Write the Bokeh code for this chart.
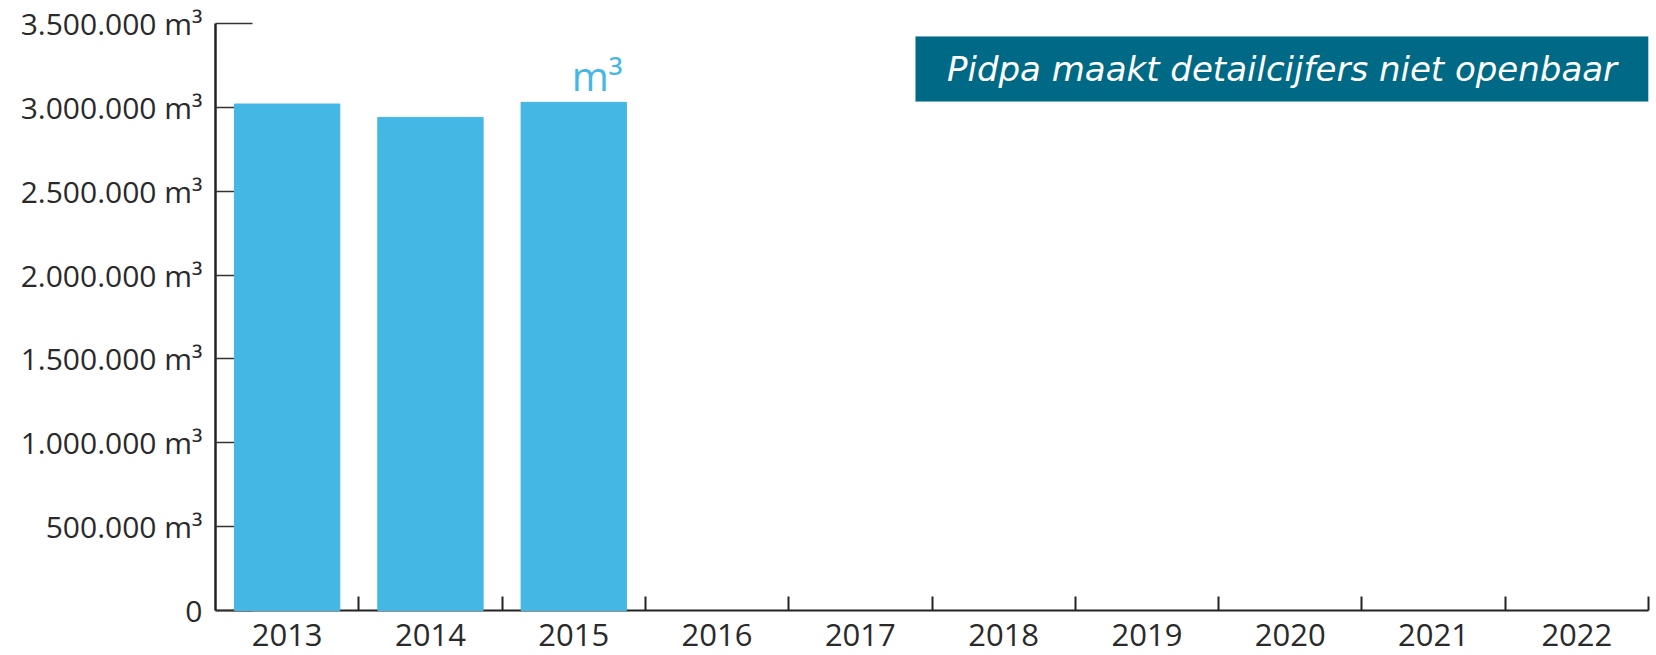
from bokeh.plotting import figure
from bokeh.models import Range1d, FixedTicker, BoxAnnotation, Label, ColumnDataSource
from bokeh.embed import file_html
from bokeh.resources import INLINE
from bokeh.core.properties import value

# ---- data ----
years = ["2013", "2014", "2015", "2016", "2017", "2018", "2019", "2020", "2021", "2022"]
volumes = [3020000, 2940000, 3030000, None, None, None, None, None, None, None]
y_ticks = [0, 500000, 1000000, 1500000, 2000000, 2500000, 3000000, 3500000]
y_tick_labels = ["0", "500.000 m³", "1.000.000 m³", "1.500.000 m³", "2.000.000 m³",
                 "2.500.000 m³", "3.000.000 m³", "3.500.000 m³"]
unit_label = "m³"
note_text = "Pidpa maakt detailcijfers niet openbaar"

FONT = "Open Sans"
TEXT_COLOR = "#2a2a2a"
BAR_COLOR = "#45b7e4"
BOX_COLOR = "#006a86"

n = len(years)
centers = [i + 0.5 for i in range(n)]
xs = [c for c, v in zip(centers, volumes) if v is not None]
tops = [v for v in volumes if v is not None]
src = ColumnDataSource(dict(x=xs, top=tops))

p = figure(width=1656, height=655, output_backend="svg", toolbar_location=None,
           x_range=Range1d(0, n), y_range=Range1d(0, y_ticks[-1]),
           min_border_left=215, min_border_right=8, min_border_top=23, min_border_bottom=45)
p.outline_line_color = None
p.grid.grid_line_color = None
p.background_fill_color = "white"
p.border_fill_color = "white"

p.vbar(x="x", top="top", width=0.735, bottom=0, source=src, color=BAR_COLOR, level="overlay")

# unit label above the last known bar
p.text(x=[xs[-1]], y=[tops[-1]], text=[unit_label], text_align="right", text_baseline="bottom",
       x_offset=49, y_offset=1, text_font=value(FONT), text_font_size="40px",
       text_color=BAR_COLOR)

# x axis: labels at category centres, ticks at boundaries
xa = p.xaxis[0]
xa.ticker = FixedTicker(ticks=centers, minor_ticks=[float(i) for i in range(1, n + 1)])
xa.major_label_overrides = {c: y for c, y in zip(centers, years)}
xa.major_tick_in = 0
xa.major_tick_out = 0
xa.minor_tick_in = 14
xa.minor_tick_out = 0
xa.minor_tick_line_color = "#222222"
xa.minor_tick_line_width = 2
xa.axis_line_color = "#222222"
xa.axis_line_width = 2
xa.major_label_standoff = 13
xa.major_label_text_font = FONT
xa.major_label_text_font_size = "31px"
xa.major_label_text_color = TEXT_COLOR

ya = p.yaxis[0]
ya.ticker = FixedTicker(ticks=y_ticks)
ya.major_label_overrides = {t: l for t, l in zip(y_ticks, y_tick_labels)}
ya.major_tick_in = 37
ya.major_tick_out = 0
ya.major_tick_line_color = "#333333"
ya.major_tick_line_width = 1.5
ya.minor_tick_line_color = None
ya.axis_line_color = "#222222"
ya.axis_line_width = 2.5
ya.major_label_standoff = 13
ya.major_label_text_font = FONT
ya.major_label_text_font_size = "30px"
ya.major_label_text_color = TEXT_COLOR

# note box
box = BoxAnnotation(left=4.885, right=n, bottom=3035000, top=3422000,
                    fill_color=BOX_COLOR, fill_alpha=1.0, line_color="#5a9fb5", line_width=1)
p.add_layout(box)
p.add_layout(Label(x=(4.885 + n) / 2, y=(3035000 + 3422000) / 2, text=note_text,
                   text_align="center", text_baseline="middle", text_font="DejaVu Sans",
                   text_font_style="italic", text_font_size="34px", text_color="white"))

open("out.html", "w").write(file_html(p, INLINE))
